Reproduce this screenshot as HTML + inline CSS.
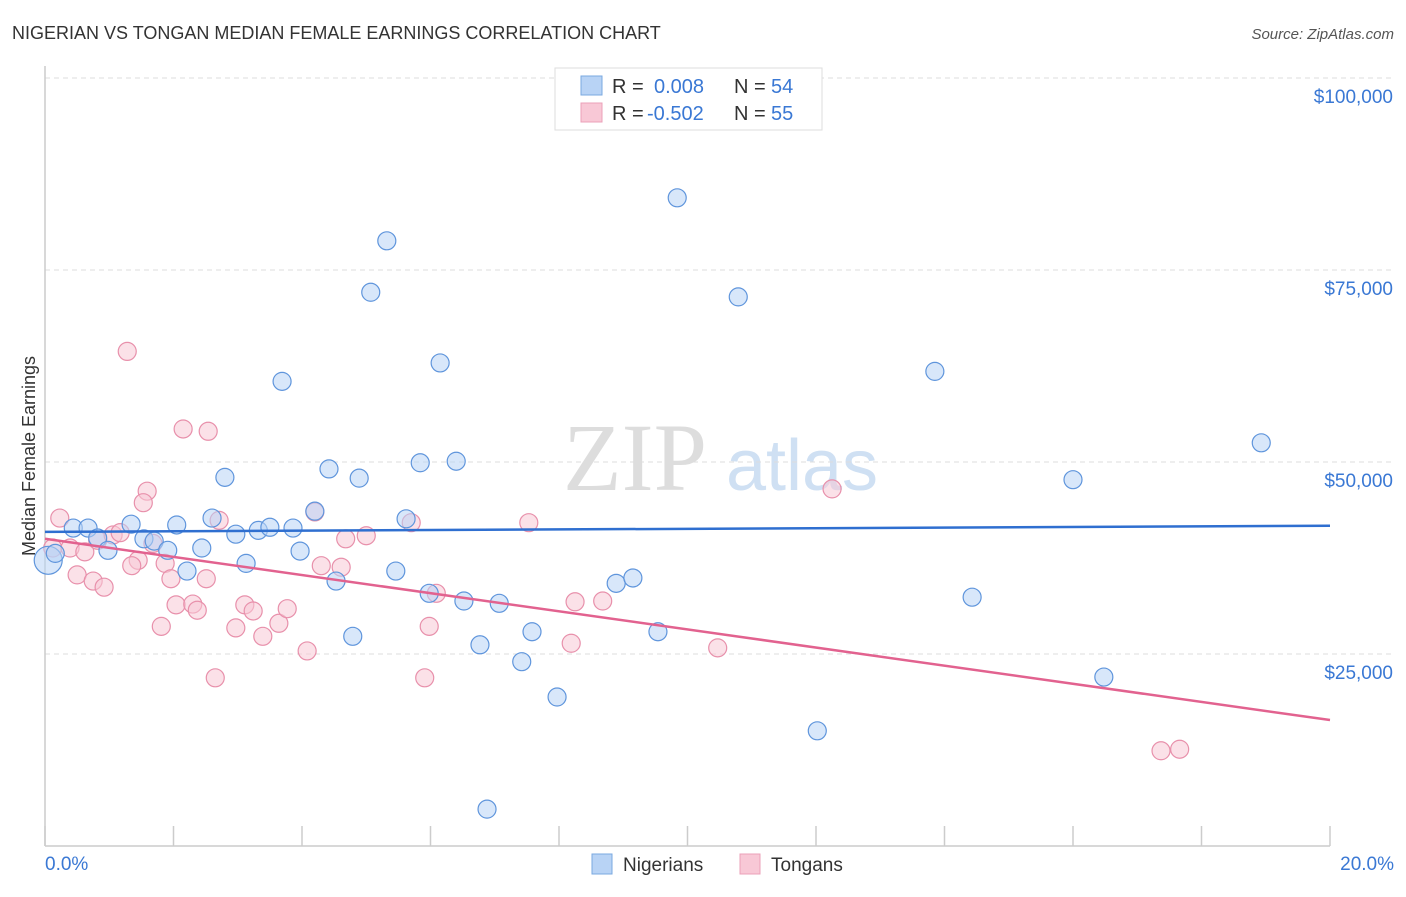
<!DOCTYPE html>
<html><head><meta charset="utf-8"><style>
body{margin:0;background:#fff;font-family:"Liberation Sans",sans-serif;}
</style></head><body>
<svg id="chart" width="1406" height="892" viewBox="0 0 1406 892" font-family="Liberation Sans, sans-serif">
<text x="12" y="39" font-size="18" fill="#333">NIGERIAN VS TONGAN MEDIAN FEMALE EARNINGS CORRELATION CHART</text>
<text x="1394" y="39" font-size="15" fill="#555" font-style="italic" text-anchor="end">Source: ZipAtlas.com</text>
<g>
<text x="635" y="490" font-size="96" fill="#ddd" style="font-family:'Liberation Serif',serif" text-anchor="middle">ZIP</text>
<text x="802" y="490" font-size="72" fill="#cfe0f3" text-anchor="middle">atlas</text>
</g>
<g id="grid"></g>
<g id="axes"></g>
<g id="marks"></g>
<text x="35" y="456" font-size="18" fill="#333" text-anchor="middle" transform="rotate(-90 35 456)">Median Female Earnings</text>
<g>
<rect x="555" y="68" width="267" height="62" fill="#fff" stroke="#ddd"/>
<rect x="581" y="76" width="21" height="19" fill="#b8d3f5" stroke="#7aa8e0"/>
<rect x="581" y="103" width="21" height="19" fill="#f8c8d6" stroke="#eba0b8"/>
<text x="612" y="93" font-size="20" fill="#333">R =</text><text x="654" y="93" font-size="20" fill="#3a78d4">0.008</text>
<text x="734" y="93" font-size="20" fill="#333">N =</text><text x="771" y="93" font-size="20" fill="#3a78d4">54</text>
<text x="612" y="120" font-size="20" fill="#333">R =</text><text x="647" y="120" font-size="20" fill="#3a78d4">-0.502</text>
<text x="734" y="120" font-size="20" fill="#333">N =</text><text x="771" y="120" font-size="20" fill="#3a78d4">55</text>
</g>
<g>
<rect x="592" y="854" width="20" height="20" fill="#b8d3f5" stroke="#7aa8e0"/>
<text x="623" y="871" font-size="19" fill="#333">Nigerians</text>
<rect x="740" y="854" width="20" height="20" fill="#f8c8d6" stroke="#eba0b8"/>
<text x="771" y="871" font-size="19" fill="#333">Tongans</text>
</g>
</svg>
<script>
const yTicks=[25000,50000,75000,100000];
const yTickLabels=["$25,000","$50,000","$75,000","$100,000"];
const xTicks=[0,2,4,6,8,10,12,14,16,18,20];
const xEndLabels=["0.0%","20.0%"];
const nigX=[0.05,0.16,0.44,0.67,0.82,0.98,1.34,1.54,1.70,1.91,2.05,2.21,2.44,2.60,2.80,2.97,3.13,3.32,3.50,3.69,3.86,3.97,4.20,4.42,4.53,4.79,4.89,5.07,5.32,5.46,5.62,5.84,5.98,6.15,6.40,6.52,6.77,6.88,7.07,7.42,7.58,7.97,8.89,9.15,9.54,9.84,10.79,12.02,13.85,14.43,16.00,16.48,18.93];
const nigY=[37.2,38.1,41.4,41.4,40.1,38.5,41.9,40.0,39.7,38.5,41.8,35.8,38.8,42.7,48.0,40.6,36.8,41.1,41.5,60.5,41.4,38.4,43.6,49.1,34.5,27.3,47.9,72.1,78.8,35.8,42.6,49.9,32.9,62.9,50.1,31.9,26.2,4.8,31.6,24.0,27.9,19.4,34.2,34.9,27.9,84.4,71.5,15.0,61.8,32.4,47.7,22.0,52.5];
const tonX=[1.28,2.15,2.54,1.59,1.53,0.23,2.71,4.20,0.12,0.39,0.62,0.82,1.06,1.17,1.68,0.50,0.75,0.92,1.45,1.35,1.87,1.96,2.51,2.04,2.30,2.37,1.81,2.97,3.11,3.24,3.39,3.64,3.77,4.08,2.65,4.30,4.61,4.68,5.00,5.70,6.09,5.98,5.91,7.53,8.25,8.68,8.19,12.25,10.47,17.37,17.66];
const tonY=[64.4,54.3,54.0,46.2,44.7,42.7,42.4,43.5,38.8,38.8,38.3,39.8,40.5,40.8,39.4,35.3,34.5,33.7,37.2,36.5,36.8,34.8,34.8,31.4,31.5,30.7,28.6,28.4,31.4,30.6,27.3,29.0,30.9,25.4,21.9,36.5,36.3,40.0,40.4,42.1,32.9,28.6,21.9,42.1,31.8,31.9,26.4,46.5,25.8,12.4,12.6];
const nigTrend=[40.9,41.7];
const tonTrend=[40.0,16.4];
const trendX=[0,20];

const NS="http://www.w3.org/2000/svg";
const sx=v=>45+v/20*1285;
const sy=v=>846-v/100000*768;
function mk(tag,attrs,parent){const e=document.createElementNS(NS,tag);for(const k in attrs)e.setAttribute(k,attrs[k]);parent.appendChild(e);return e;}
const gridG=document.getElementById('grid'),axesG=document.getElementById('axes'),marksG=document.getElementById('marks');
yTicks.forEach((t,i)=>{
 const g=mk('line',{x1:45,x2:1394,y1:sy(t),y2:sy(t),stroke:'#ddd','stroke-dasharray':'5,4'},gridG);
 
 
 const l=mk('text',{x:1393,y:sy(t)+25,'font-size':19,fill:'#3a78d4','text-anchor':'end'},axesG);
 l.textContent=yTickLabels[i];
 
 
});
const topLine=mk('line',{x1:45,x2:1394,y1:78,y2:78,stroke:'#ddd','stroke-dasharray':'5,4'},gridG);


const ya=mk('line',{x1:45,x2:45,y1:66,y2:846,stroke:'#ccc','stroke-width':1.5},axesG);


const xa=mk('line',{x1:45,x2:1330,y1:846,y2:846,stroke:'#ccc','stroke-width':1.5},axesG);


xTicks.forEach(t=>{
 const k=mk('line',{x1:sx(t),x2:sx(t),y1:826,y2:846,stroke:'#ccc','stroke-width':1.5},axesG);
 
 
});
[[0,'start',45],[1,'end',1394]].forEach(([i,a,x])=>{
 const l=mk('text',{x:x,y:870,'font-size':19,fill:'#3a78d4','text-anchor':a},axesG);
 l.textContent=xEndLabels[i];
 
 
});
function pts(X,Y,fill,stroke,name){
 X.forEach((x,i)=>{
  const c=mk('circle',{cx:sx(x),cy:sy(Y[i]*1000),r:(i===0&&name==='nigerian-point')?14:9,fill:fill,'fill-opacity':0.55,stroke:stroke,'stroke-width':1.2},marksG);
  
  
 });
}
pts(tonX,tonY,'#f8c8d6','#e890ab','tongan-point');
pts(nigX,nigY,'#b8d3f5','#5f95dc','nigerian-point');
const bl=mk('line',{x1:sx(trendX[0]),x2:sx(trendX[1]),y1:sy(nigTrend[0]*1000),y2:sy(nigTrend[1]*1000),stroke:'#2f6fd0','stroke-width':2.5},marksG);


const pl=mk('line',{x1:sx(trendX[0]),x2:sx(trendX[1]),y1:sy(tonTrend[0]*1000),y2:sy(tonTrend[1]*1000),stroke:'#e2628f','stroke-width':2.5},marksG);


</script>
</body></html>
